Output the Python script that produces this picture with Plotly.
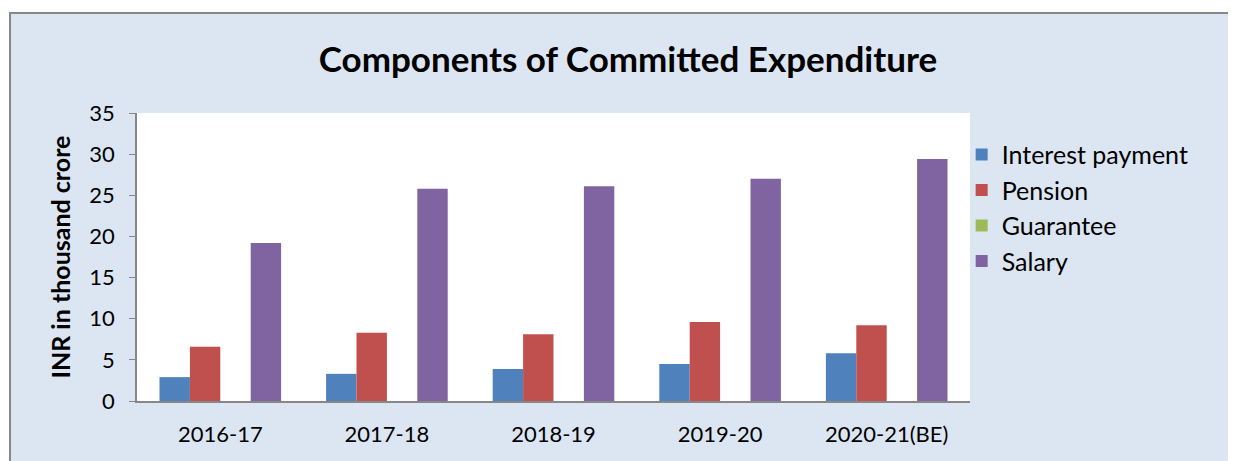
import plotly.graph_objects as go

# data
years = ["2016-17", "2017-18", "2018-19", "2019-20", "2020-21(BE)"]
interest = [2.9, 3.3, 3.9, 4.5, 5.8]
pension = [6.6, 8.3, 8.1, 9.6, 9.2]
guarantee = [0, 0, 0, 0, 0]
salary = [19.2, 25.8, 26.1, 27.0, 29.4]

series = [
    ("Interest payment", interest, "#4F81BD"),
    ("Pension", pension, "#C0504D"),
    ("Guarantee", guarantee, "#9BBB59"),
    ("Salary", salary, "#8064A2"),
]

font = "Lato, 'Open Sans', sans-serif"

# the page puts the figure 8px in from the top-left corner
W, H = 1228, 453

fig = go.Figure()
for name, vals, col in series:
    fig.add_trace(go.Bar(x=years, y=vals, name=name, marker_color=col,
                         marker_line_width=0))

fig.update_layout(
    width=W, height=H,
    margin=dict(l=129, r=266, t=105, b=60),
    paper_bgcolor="white",
    plot_bgcolor="white",
    barmode="group",
    bargap=0.27,
    bargroupgap=0,
    font=dict(family=font, size=22, color="black"),
    title=dict(text="<b>Components of Committed Expenditure</b>",
               x=(628 - 137) / 833, xref="paper", xanchor="center",
               y=1 - 52 / H, yanchor="middle",
               font=dict(size=35, family=font)),
    legend=dict(x=0.99, xanchor="left", y=0.935, yanchor="top",
                font=dict(size=25), bgcolor="rgba(0,0,0,0)",
                itemwidth=30),
    showlegend=True,
    shapes=[
        # light blue chart box with grey border, white plot area on top
        dict(type="rect", xref="paper", yref="paper", layer="below",
             x0=-127 / 833, x1=1.5, y0=-0.5, y1=1 + 100 / 288,
             fillcolor="#DCE6F2", line=dict(color="#878787", width=2)),
        dict(type="rect", xref="x domain", yref="y domain", layer="below",
             x0=0, x1=1, y0=0, y1=1, fillcolor="white", line_width=0),
    ],
)

fig.update_xaxes(showline=True, linecolor="#878787", linewidth=2,
                 ticks="", showgrid=False, tickfont=dict(size=22),
                 ticklabelstandoff=13)
fig.update_yaxes(range=[0, 35], dtick=5, showline=True, linecolor="#878787",
                 linewidth=1.5, ticks="outside", ticklen=6, tickcolor="#878787",
                 showgrid=False, zeroline=False, tickfont=dict(size=22),
                 ticklabelstandoff=10,
                 title=dict(text="<b>INR in thousand crore</b>",
                            font=dict(size=25), standoff=12))

fig.write_html("out.html")
